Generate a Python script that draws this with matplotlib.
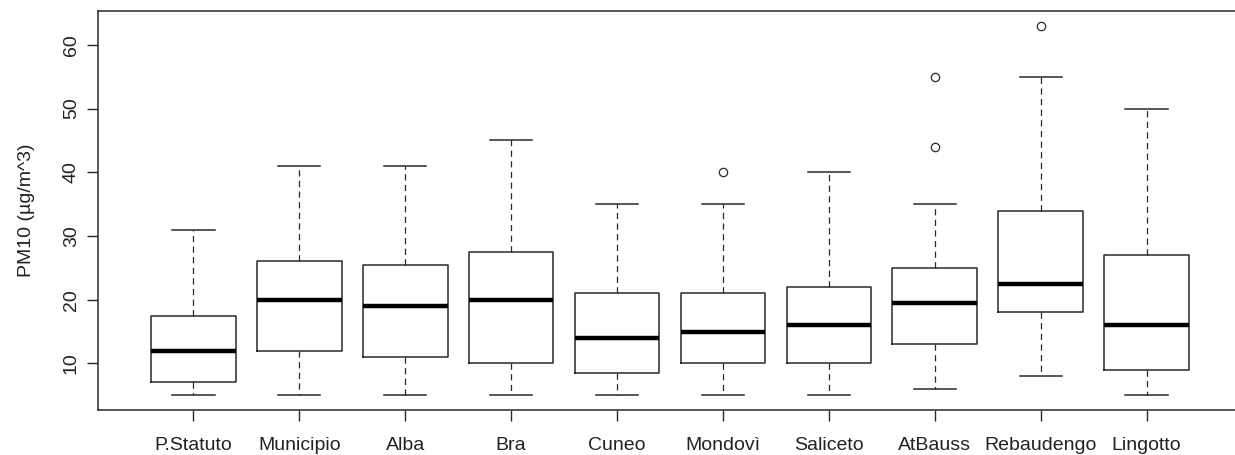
import matplotlib
matplotlib.use("Agg")
import matplotlib.pyplot as plt

plt.rcParams["font.family"] = ["Liberation Sans", "DejaVu Sans"]

# PM10 daily concentrations per monitoring station (five-number summaries)
stations = ["P.Statuto", "Municipio", "Alba", "Bra", "Cuneo",
            "Mondovì", "Saliceto", "AtBauss", "Rebaudengo", "Lingotto"]
whisker_lo = [5, 5, 5, 5, 5, 5, 5, 6, 8, 5]
q1 = [7, 12, 11, 10, 8.5, 10, 10, 13, 18, 9]
median = [12, 20, 19, 20, 14, 15, 16, 19.5, 22.5, 16]
q3 = [17.5, 26, 25.5, 27.5, 21, 21, 22, 25, 34, 27]
whisker_hi = [31, 41, 41, 45, 35, 35, 40, 35, 55, 50]
outliers = [[], [], [], [], [], [40], [], [44, 55], [63], []]

yticks = [10, 20, 30, 40, 50, 60]

stats = []
for i, name in enumerate(stations):
    stats.append({"label": name, "whislo": whisker_lo[i], "q1": q1[i],
                  "med": median[i], "q3": q3[i], "whishi": whisker_hi[i],
                  "fliers": outliers[i]})

fig = plt.figure(figsize=(12.35, 4.55), dpi=100)
ax = fig.add_axes([98 / 1235, 45 / 455, 1144 / 1235, 399 / 455])

edge = "#2a2a2a"
ax.bxp(stats, positions=range(1, len(stations) + 1), widths=0.8,
       capwidths=0.4, showfliers=True,
       boxprops=dict(color=edge, lw=1.1),
       medianprops=dict(color="black", lw=3.2, solid_capstyle="butt"),
       whiskerprops=dict(color=edge, lw=0.9, linestyle=(0, (5, 3.5))),
       capprops=dict(color=edge, lw=1.1),
       flierprops=dict(marker="o", markersize=6, markerfacecolor="none",
                       markeredgecolor=edge, markeredgewidth=0.9))

ax.set_xlim(0.1, 10.9)
ax.set_ylim(2.68, 65.32)
ax.set_yticks(yticks)
ax.set_yticklabels([str(v) for v in yticks], rotation=90, va="center")
ax.set_xticks(range(1, len(stations) + 1))
ax.set_xticklabels(stations)
ax.tick_params(axis="both", length=8, width=1, color=edge,
               labelsize=14, labelcolor="#222222")
ax.tick_params(axis="x", pad=11.5)
ax.tick_params(axis="y", pad=5)
ax.set_ylabel("PM10 (µg/m^3)", fontsize=14, color="#222222", labelpad=20)

for side in ["left", "top", "bottom", "right"]:
    ax.spines[side].set_color(edge)
    ax.spines[side].set_linewidth(1.1)

fig.savefig("out.png", dpi=100)
